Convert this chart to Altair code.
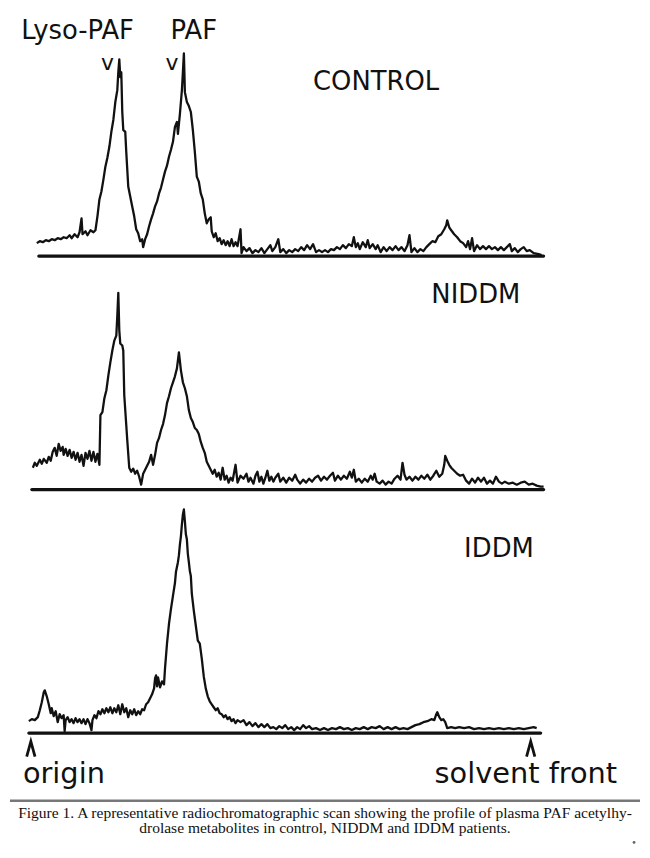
import altair as alt
import pandas as pd

# scan position (channel, origin = 0) and counts above baseline
ctrl_pos = [2, 5, 8, 11, 14, 17, 20, 23, 26, 29, 32, 35, 37, 40, 43, 45, 47, 48, 51, 53, 56, 59, 61, 63, 65, 67, 69, 71, 73, 75, 77, 79, 81, 83, 84, 85, 86, 87, 88, 89, 91, 92, 94, 96, 98, 100, 102, 104, 106, 108, 109, 111, 113, 115, 117, 119, 121, 123, 125, 127, 129, 131, 133, 135, 137, 139, 141, 143, 144, 146, 148, 149, 150, 151, 153, 155, 157, 159, 161, 163, 165, 167, 169, 171, 173, 175, 177, 178, 180, 182, 184, 186, 188, 190, 192, 194, 196, 198, 200, 202, 204,
            207, 208, 210, 213, 216, 219, 222, 225, 228, 231, 234, 237, 239, 242, 245, 247, 250, 253, 256, 259, 262, 265, 268, 271, 274, 277, 280, 283, 286, 289, 292, 295, 298, 301, 304, 307, 310, 313, 316, 319, 321, 323, 325, 327, 330, 333, 335, 337, 340, 343, 345, 348, 351, 354, 357, 360, 363, 366, 369, 372, 375, 377, 379, 382, 385, 388, 391, 394, 397, 400, 403, 406, 409, 412, 414, 415, 417, 419, 422, 425, 428, 431, 434, 436, 438, 440, 442, 445, 448, 451, 454, 457, 460, 463, 466, 469, 472, 475, 478, 480, 483, 486, 489, 492, 495, 498, 502, 507, 510]
ctrl_cts = [13, 15, 14, 16, 15, 17, 16, 18, 17, 19, 18, 21, 18, 22, 19, 24, 38, 22, 25, 21, 26, 24, 26, 40, 57, 65, 77, 90, 99, 110, 125, 137, 155, 167, 185, 198, 180, 185, 145, 127, 125, 105, 70, 60, 50, 40, 27, 23, 15, 17, 9, 17, 22, 30, 37, 43, 50, 55, 63, 69, 77, 85, 91, 100, 107, 115, 130, 135, 123, 143, 167, 185, 204, 165, 155, 151, 145, 127, 105, 80, 75, 63, 57, 43, 33, 37, 39, 25, 19, 23, 15, 18, 12, 16, 11, 15, 10, 17, 10, 14, 10,
            27, 3, 9, 5, 8, 3, 6, 4, 8, 3, 7, 11, 5, 9, 17, 4, 7, 3, 6, 4, 7, 5, 9, 6, 11, 7, 12, 4, 6, 4, 6, 4, 7, 6, 9, 7, 11, 8, 12, 10, 19, 9, 13, 7, 14, 9, 16, 8, 12, 7, 11, 4, 9, 5, 9, 6, 10, 6, 9, 5, 11, 21, 4, 8, 4, 7, 5, 9, 12, 15, 14, 20, 22, 27, 31, 36, 29, 26, 22, 19, 15, 13, 9, 15, 7, 18, 5, 11, 7, 10, 7, 10, 7, 9, 6, 9, 6, 9, 12, 5, 8, 4, 7, 9, 5, 6, 3, 2, 1]

niddm_pos = [-2, 0, 2, 5, 7, 9, 12, 14, 16, 18, 20, 22, 24, 26, 28, 29, 31, 33, 35, 37, 39, 41, 43, 45, 47, 49, 51, 53, 55, 57, 59, 61, 63, 65, 66, 68, 70, 72, 74, 76, 78, 80, 82, 83, 84, 85, 86, 88, 89, 90, 92, 93, 95, 97, 99, 101, 103, 105, 107, 109, 111, 113, 115, 117, 119, 121, 123, 125, 127, 129, 131, 133, 135, 137, 139, 141, 143, 145, 147, 149, 151, 153, 155, 157, 159, 161, 163, 165, 167, 169, 171, 173, 175, 177, 179, 181, 183, 185, 187, 189, 191, 193, 195, 197, 199, 202,
             204, 207, 210, 213, 215, 217, 220, 222, 224, 226, 228, 230, 232, 234, 236, 238, 240, 242, 245, 247, 250, 253, 256, 259, 262, 264, 267, 270, 273, 276, 279, 282, 285, 288, 291, 294, 297, 300, 302, 305, 308, 311, 314, 317, 319, 321, 323, 326, 329, 332, 335, 338, 340, 342, 344, 347, 350, 353, 356, 359, 362, 365, 368, 370, 372, 374, 377, 380, 383, 386, 389, 392, 395, 398, 401, 404, 407, 410, 412, 413, 415, 417, 419, 422, 425, 428, 431, 434, 437, 440, 443, 446, 449, 452, 455, 458, 461, 464, 467, 470, 473, 477, 481, 485, 489, 493, 497, 501, 505, 509, 512]
niddm_cts = [22, 27, 24, 30, 26, 31, 27, 33, 29, 38, 42, 34, 46, 39, 43, 35, 41, 34, 40, 32, 38, 30, 37, 28, 35, 24, 37, 31, 39, 29, 38, 28, 36, 25, 75, 78, 92, 100, 115, 128, 140, 150, 155, 175, 198, 160, 147, 145, 140, 95, 65, 50, 22, 18, 21, 16, 19, 13, 5, 16, 20, 24, 28, 35, 25, 35, 47, 52, 60, 66, 75, 87, 94, 102, 108, 114, 122, 138, 120, 108, 102, 94, 80, 72, 68, 62, 60, 56, 48, 42, 37, 28, 24, 20, 16, 20, 13, 17, 10, 22, 10, 14, 7, 12, 9, 25,
             7, 14, 11, 16, 8, 12, 6, 14, 18, 8, 13, 6, 12, 19, 9, 13, 8, 12, 16, 8, 12, 7, 12, 9, 15, 10, 6, 10, 7, 11, 8, 12, 14, 9, 13, 10, 14, 17, 9, 14, 10, 14, 11, 18, 12, 20, 8, 11, 7, 11, 8, 14, 10, 16, 8, 6, 9, 5, 8, 6, 11, 14, 10, 27, 15, 10, 13, 9, 13, 10, 14, 11, 15, 10, 14, 19, 13, 16, 25, 34, 29, 25, 22, 19, 16, 14, 15, 9, 6, 11, 7, 12, 8, 12, 6, 9, 6, 13, 8, 6, 8, 6, 7, 5, 7, 8, 5, 6, 4, 3, 3]

iddm_pos = [-6, -3, 0, 3, 5, 7, 9, 10, 12, 14, 16, 17, 19, 21, 23, 25, 27, 29, 30, 31, 33, 35, 37, 39, 41, 43, 45, 47, 49, 51, 53, 55, 57, 58, 60, 62, 64, 66, 68, 70, 72, 74, 76, 78, 80, 82, 84, 86, 88, 90, 92, 94, 96, 98, 100, 102, 104, 106, 108, 110, 112, 114, 116, 118, 120, 121, 122, 123, 124, 126, 128, 130, 131, 133, 135, 137, 139, 141, 142, 144, 145, 146, 147, 148, 149, 150, 151, 152, 153, 154, 155, 156, 157, 158, 160, 162, 164, 166, 168, 170, 172, 174, 176, 178, 180, 182, 184, 186, 188, 190, 192, 194, 196, 198, 200, 202, 204,
            207, 210, 213, 216, 219, 222, 225, 228, 231, 234, 237, 240, 243, 246, 249, 252, 255, 258, 261, 264, 267, 270, 273, 276, 279, 283, 287, 291, 295, 299, 303, 307, 311, 315, 319, 323, 327, 331, 335, 339, 343, 347, 351, 355, 359, 363, 367, 371, 375, 379, 383, 387, 391, 395, 399, 402, 404, 405, 407, 409, 411, 413, 415, 419, 423, 427, 432, 437, 442, 447, 452, 457, 462, 467, 472, 477, 482, 487, 492, 497, 502, 505]
iddm_cts = [12, 14, 13, 16, 23, 31, 41, 43, 37, 29, 20, 25, 17, 22, 11, 19, 15, 18, 2, 13, 16, 11, 14, 10, 15, 11, 14, 10, 14, 9, 14, 10, 3, 13, 18, 15, 22, 19, 24, 20, 25, 21, 26, 20, 25, 21, 28, 19, 29, 21, 25, 16, 23, 19, 24, 18, 22, 19, 24, 23, 29, 31, 35, 39, 45, 55, 58, 47, 56, 46, 52, 49, 65, 90, 110, 125, 138, 151, 162, 172, 179, 190, 198, 210, 220, 225, 213, 200, 195, 180, 172, 163, 158, 140, 123, 108, 93, 90, 75, 57, 45, 37, 32, 29, 26, 23, 25, 20, 19, 16, 18, 14, 16, 12, 14, 10, 13,
            11, 13, 8, 11, 7, 10, 6, 9, 6, 9, 5, 6, 4, 7, 5, 8, 4, 6, 3, 6, 4, 8, 5, 7, 4, 5, 3, 5, 3, 5, 4, 6, 4, 5, 3, 5, 4, 6, 4, 6, 5, 7, 4, 6, 4, 6, 4, 5, 4, 6, 8, 9, 11, 12, 14, 13, 19, 21, 16, 13, 14, 11, 5, 6, 5, 6, 5, 6, 4, 5, 4, 5, 4, 5, 4, 5, 4, 5, 4, 5, 6, 5]

# origin and solvent-front marks on the strip
marker_pos = [-4, 499]

XDOM = [-25, 609]
W = 634
FONT = "DejaVu Sans"
INK = "#111"


def xs(field):
    return alt.X(field, type="quantitative", scale=alt.Scale(domain=XDOM, nice=False, zero=False), axis=None)


def ys(field, dom):
    return alt.Y(field, type="quantitative", scale=alt.Scale(domain=dom, nice=False, zero=False), axis=None)


def labels(rows, dom, size, align="center", font=FONT, weight="normal"):
    df = pd.DataFrame(rows, columns=["pos", "cts", "label"])
    return alt.Chart(df).mark_text(font=font, fontSize=size, align=align, baseline="alphabetic",
                                   color=INK, fontWeight=weight).encode(
        x=xs("pos"), y=ys("cts", dom), text="label:N")


def panel(pos, cts, dom, height, base_from, base_to, extra):
    df = pd.DataFrame({"pos": pos, "cts": cts})
    line = alt.Chart(df).mark_line(color=INK, strokeWidth=2.3, strokeJoin="round").encode(
        x=xs("pos"), y=ys("cts", dom))
    bdf = pd.DataFrame({"a": [base_from], "b": [base_to], "z": [0]})
    base = alt.Chart(bdf).mark_rule(color=INK, strokeWidth=3.2, strokeCap="round").encode(
        x=xs("a"), x2="b:Q", y=ys("z", dom))
    return alt.layer(base, line, *extra).properties(width=W, height=height)


dom1 = [-7, 247]
p1 = panel(ctrl_pos, ctrl_cts, dom1, 254, 4, 512, [
    labels([(43, 218, "Lyso-PAF"), (160, 218, "PAF")], dom1, 26),
    labels([(73, 187, "v"), (138, 187, "v")], dom1, 22),
    labels([(280, 167, "CONTROL")], dom1, 26, align="left"),
])

dom2 = [-7, 228]
p2 = panel(niddm_pos, niddm_cts, dom2, 235, -3, 512, [
    labels([(399, 188, "NIDDM")], dom2, 26, align="left"),
])

dom3 = [-65, 238]
mdf = pd.DataFrame({"pos": marker_pos, "cts": [-16, -16]})
carets = alt.Chart(mdf).mark_point(
    shape="M -0.55 1 L 0 -1 L 0.55 1", filled=False, color=INK, strokeWidth=2.8, size=230, opacity=1
).encode(x=xs("pos"), y=ys("cts", dom3))
p3 = panel(iddm_pos, iddm_cts, dom3, 303, -6, 509, [
    labels([(432, 177, "IDDM")], dom3, 26, align="left"),
    carets,
    labels([(-12, -50, "origin")], dom3, 29, align="left"),
    labels([(586, -50, "solvent front")], dom3, 29, align="right"),
])

cap_line1 = "Figure 1. A representative radiochromatographic scan showing the profile of plasma PAF acetylhy-"
cap_line2 = "drolase metabolites in control, NIDDM and IDDM patients."
cdf = pd.DataFrame({"t": [cap_line1, cap_line2]})
rule = alt.Chart(pd.DataFrame({"k": [0]})).mark_rule(color="#777", strokeWidth=2.5).encode(
    x=alt.value(0), x2=alt.value(W), y=alt.value(3))
cap1 = alt.Chart(cdf.iloc[[0]]).mark_text(font="Liberation Serif", fontSize=15.6, color=INK,
                                           baseline="alphabetic").encode(
    x=alt.value(W / 2), y=alt.value(20), text="t:N")
cap2 = alt.Chart(cdf.iloc[[1]]).mark_text(font="Liberation Serif", fontSize=15.6, color=INK,
                                           baseline="alphabetic").encode(
    x=alt.value(W / 2), y=alt.value(36), text="t:N")
dot = alt.Chart(pd.DataFrame({"k": [0]})).mark_point(filled=True, color="#222", size=8).encode(
    x=alt.value(628), y=alt.value(45))
p4 = alt.layer(rule, cap1, cap2, dot).properties(width=W, height=50)

chart = alt.vconcat(p1, p2, p3, p4, spacing=0).resolve_scale(x="independent", y="independent").properties(
    padding=0, background="white"
).configure_view(stroke=None)

chart.save("out.html", embed_options={"renderer": "svg", "actions": False})
